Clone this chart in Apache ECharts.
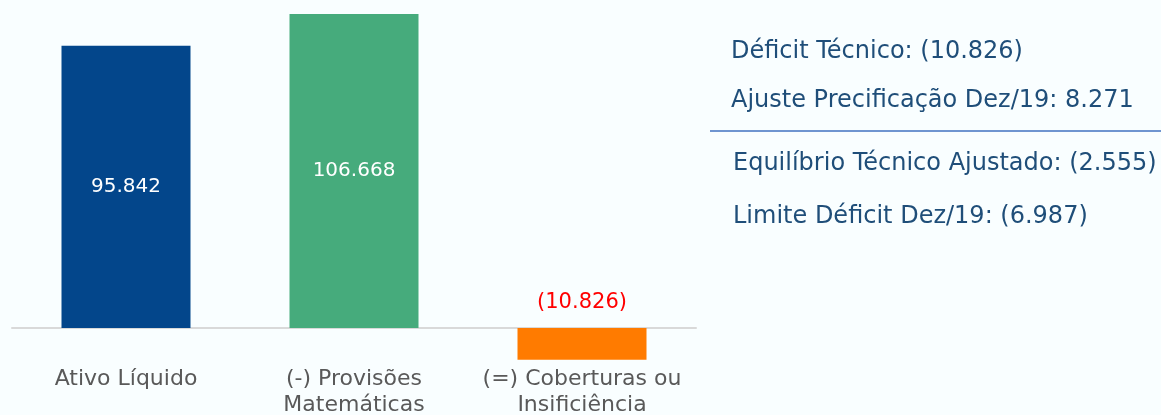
<!DOCTYPE html>
<html>
<head>
<meta charset="utf-8">
<script src="https://cdn.jsdelivr.net/npm/echarts@6/dist/echarts.min.js"></script>
<style>
html,body{margin:0;padding:0;background:#f9feff;}
#c{width:1161px;height:415px;}
</style>
</head>
<body>
<div id="c"></div>
<script>
const categories = ['Ativo Líquido', '(-) Provisões\nMatemáticas', '(=) Coberturas ou\nInsificiência'];
const values = [95842, 106668, -10826];
const valueLabels = ['95.842', '106.668', '(10.826)'];
const barColors = ['#03468b', '#46ab7c', '#ff7b00'];
const notesTop = ['Déficit Técnico: (10.826)', 'Ajuste Precificação Dez/19: 8.271'];
const notesBottom = ['Equilíbrio Técnico Ajustado: (2.555)', 'Limite Déficit Dez/19: (6.987)'];

const FONT = 'DejaVu Sans';
const chart = echarts.init(document.getElementById('c'));
const noteStyle = {fill: '#1f4e79', fontSize: 24, fontFamily: FONT, textVerticalAlign: 'middle', textAlign: 'left'};
chart.setOption({
  backgroundColor: '#f9feff',
  animation: false,
  grid: {left: 12, right: 465, top: 14, bottom: 28.13, outerBoundsMode: 'none', containLabel: false},
  xAxis: {
    type: 'category',
    data: categories,
    axisLine: {onZero: true, lineStyle: {color: '#d9d9d9', width: 2}},
    axisTick: {show: false},
    axisLabel: {margin: -21, fontSize: 22, lineHeight: 26, color: '#595959', fontFamily: FONT, interval: 0}
  },
  yAxis: {
    type: 'value', min: -20000, max: 106668,
    show: false, splitLine: {show: false}
  },
  series: [{
    type: 'bar',
    barWidth: 129,
    data: values.map((v, i) => ({
      value: v,
      itemStyle: {color: barColors[i]},
      label: v >= 0
        ? {show: true, position: 'inside', color: '#ffffff', fontSize: 20, fontFamily: FONT, formatter: valueLabels[i]}
        : {show: true, position: 'top', distance: 15, color: '#ff0000', fontSize: 21, fontFamily: FONT, formatter: valueLabels[i]}
    }))
  }],
  graphic: [
    {type: 'text', style: Object.assign({text: notesTop[0], x: 731, y: 52}, noteStyle)},
    {type: 'text', style: Object.assign({text: notesTop[1], x: 731, y: 101}, noteStyle)},
    {type: 'line', shape: {x1: 710, y1: 131, x2: 1161, y2: 131}, style: {stroke: '#6f95d0', lineWidth: 2}},
    {type: 'text', style: Object.assign({text: notesBottom[0], x: 733, y: 164}, noteStyle)},
    {type: 'text', style: Object.assign({text: notesBottom[1], x: 733, y: 217}, noteStyle)}
  ]
});
</script>
</body>
</html>
